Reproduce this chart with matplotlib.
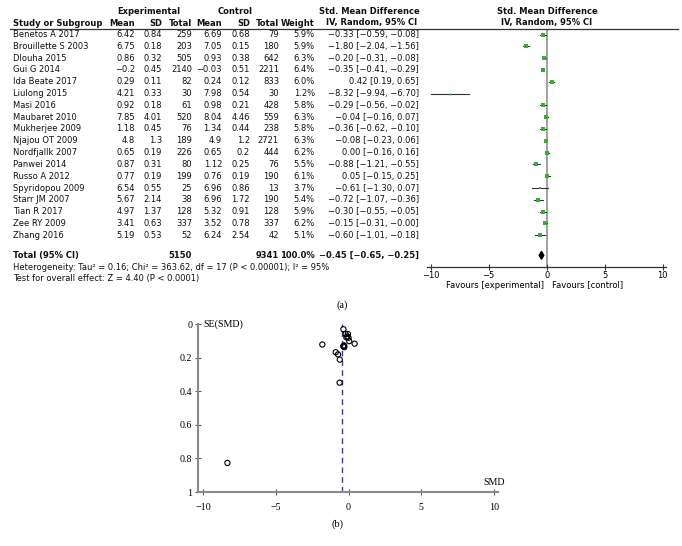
import matplotlib
matplotlib.use('Agg')
import matplotlib.pyplot as plt
import matplotlib.transforms as mtransforms
from matplotlib.lines import Line2D

studies = ['Benetos A 2017', 'Brouillette S 2003', 'Dlouha 2015', 'Gui G 2014', 'Ida Beate 2017',
           'Liulong 2015', 'Masi 2016', 'Maubaret 2010', 'Mukherjee 2009', 'Njajou OT 2009',
           'Nordfjallk 2007', 'Panwei 2014', 'Russo A 2012', 'Spyridopou 2009', 'Starr JM 2007',
           'Tian R 2017', 'Zee RY 2009', 'Zhang 2016']
exp_mean = [6.42, 6.75, 0.86, -0.2, 0.29, 4.21, 0.92, 7.85, 1.18, 4.8, 0.65, 0.87, 0.77, 6.54, 5.67, 4.97, 3.41, 5.19]
exp_sd = [0.84, 0.18, 0.32, 0.45, 0.11, 0.33, 0.18, 4.01, 0.45, 1.3, 0.19, 0.31, 0.19, 0.55, 2.14, 1.37, 0.63, 0.53]
exp_n = [259, 203, 505, 2140, 82, 30, 61, 520, 76, 189, 226, 80, 199, 25, 38, 128, 337, 52]
ctl_mean = [6.69, 7.05, 0.93, -0.03, 0.24, 7.98, 0.98, 8.04, 1.34, 4.9, 0.65, 1.12, 0.76, 6.96, 6.96, 5.32, 3.52, 6.24]
ctl_sd = [0.68, 0.15, 0.38, 0.51, 0.12, 0.54, 0.21, 4.46, 0.44, 1.2, 0.2, 0.25, 0.19, 0.86, 1.72, 0.91, 0.78, 2.54]
ctl_n = [79, 180, 642, 2211, 833, 30, 428, 559, 238, 2721, 444, 76, 190, 13, 190, 128, 337, 42]
weight = [5.9, 5.9, 6.3, 6.4, 6.0, 1.2, 5.8, 6.3, 5.8, 6.3, 6.2, 5.5, 6.1, 3.7, 5.4, 5.9, 6.2, 5.1]
smd = [-0.33, -1.80, -0.20, -0.35, 0.42, -8.32, -0.29, -0.04, -0.36, -0.08, 0.00, -0.88, 0.05, -0.61, -0.72, -0.30, -0.15, -0.60]
ci_lo = [-0.59, -2.04, -0.31, -0.41, 0.19, -9.94, -0.56, -0.16, -0.62, -0.23, -0.16, -1.21, -0.15, -1.30, -1.07, -0.55, -0.31, -1.01]
ci_hi = [-0.08, -1.56, -0.08, -0.29, 0.65, -6.70, -0.02, 0.07, -0.10, 0.06, 0.16, -0.55, 0.25, 0.07, -0.36, -0.05, -0.0, -0.18]
# standard errors for the funnel plot
se = [0.130, 0.122, 0.059, 0.031, 0.117, 0.827, 0.138, 0.059, 0.133, 0.074, 0.082, 0.168, 0.102, 0.349, 0.181, 0.128, 0.079, 0.212]

tot_exp = 5150
tot_ctl = 9341
tot_weight = 100.0
tot_smd, tot_lo, tot_hi = -0.45, -0.65, -0.25
het_text = 'Heterogeneity: Tau² = 0.16; Chi² = 363.62, df = 17 (P < 0.00001); I² = 95%'
test_text = 'Test for overall effect: Z = 4.40 (P < 0.0001)'

W, H = 682, 546
green = '#3aaa35'

plt.rcParams['font.family'] = 'DejaVu Sans'
plt.rcParams['font.size'] = 6

fig = plt.figure(figsize=(W / 100, H / 100), dpi=100)

def fx(x):
    return x / W

def fy(y):
    return 1 - y / H

def num(v):
    return str(v).replace('-', '\u2212')

def ci(e, l, h):
    return ('%.2f [%.2f, %.2f]' % (e, l, h)).replace('-', '\u2212')

# ---- forest plot ----
row0, row_h = 34.5, 11.81
total_row = 18.7
ax = fig.add_axes([fx(427.2), fy(266.5), fx(239), (266.5 - 29) / H])
ax.set_xlim(-10.3, 10.3)
ax.set_ylim((266.5 - row0) / row_h, (29 - row0) / row_h)
ax.axvline(0, color='#9a9a9a', lw=1.3, zorder=1)

for i in range(len(studies)):
    ax.plot([ci_lo[i], ci_hi[i]], [i, i], color='#333333', lw=0.8, zorder=2)
    ax.plot(smd[i], i, marker='s', ms=1.1 * weight[i] ** 0.5, color=green, mew=0, zorder=3)

ax.fill([tot_lo, tot_smd, tot_hi, tot_smd],
        [total_row, total_row - 0.33, total_row, total_row + 0.33], color='black', zorder=3)

for s in ['top', 'left', 'right']:
    ax.spines[s].set_visible(False)
ax.spines['bottom'].set_color('#333333')
ax.spines['bottom'].set_linewidth(0.9)
ax.set_yticks([])
ax.set_xticks([-10, -5, 0, 5, 10])
ax.tick_params(axis='x', direction='inout', length=5, width=0.8, color='#333333', labelsize=6, pad=1)

fav = mtransforms.blended_transform_factory(ax.transData, fig.transFigure)
ax.text(-0.25, fy(285), 'Favours [experimental]', transform=fav, ha='right', va='center', fontsize=6)
ax.text(0.45, fy(285), 'Favours [control]', transform=fav, ha='left', va='center', fontsize=6)

# ---- table ----
tr = mtransforms.blended_transform_factory(fig.transFigure, ax.transData)
cols = [135, 162, 192, 222, 250, 279, 315]

def cell(x, y, s, ha='right', bold=False):
    ax.text(fx(x), y, s, transform=tr, ha=ha, va='center', clip_on=False,
            fontweight='bold' if bold else 'normal', color='#111111')

for i in range(len(studies)):
    cell(13, i, studies[i], ha='left')
    vals = [num(exp_mean[i]), num(exp_sd[i]), num(exp_n[i]), num(ctl_mean[i]),
            num(ctl_sd[i]), num(ctl_n[i]), '%.1f%%' % weight[i]]
    for x, v in zip(cols, vals):
        cell(x, i, v)
    cell(419, i, ci(smd[i], ci_lo[i], ci_hi[i]))

cell(13, total_row, 'Total (95% CI)', ha='left', bold=True)
cell(192, total_row, str(tot_exp), bold=True)
cell(279, total_row, str(tot_ctl), bold=True)
cell(315, total_row, '%.1f%%' % tot_weight, bold=True)
cell(419, total_row, ci(tot_smd, tot_lo, tot_hi), bold=True)

hdr = dict(fontweight='bold', va='center', color='#111111')
fig.text(fx(149), fy(12), 'Experimental', ha='center', **hdr)
fig.text(fx(235), fy(12), 'Control', ha='center', **hdr)
fig.text(fx(369), fy(12), 'Std. Mean Difference', ha='center', **hdr)
fig.text(fx(547), fy(12), 'Std. Mean Difference', ha='center', **hdr)
fig.text(fx(13), fy(23), 'Study or Subgroup', ha='left', **hdr)
for x, h in zip(cols, ['Mean', 'SD', 'Total', 'Mean', 'SD', 'Total', 'Weight']):
    fig.text(fx(x), fy(23), h, ha='right', **hdr)
fig.text(fx(372), fy(23), 'IV, Random, 95% CI', ha='center', **hdr)
fig.text(fx(547), fy(23), 'IV, Random, 95% CI', ha='center', **hdr)
fig.add_artist(Line2D([fx(10), fx(678)], [fy(29), fy(29)], color='#333333', lw=0.9))

fig.text(fx(13), fy(268), het_text, ha='left', va='center', color='#111111')
fig.text(fx(13), fy(279), test_text, ha='left', va='center', color='#111111')

serif = 'Liberation Serif'
fig.text(fx(342), fy(305), '(a)', ha='center', va='center', family=serif, fontsize=7.5)
fig.text(fx(338), fy(524), '(b)', ha='center', va='center', family=serif, fontsize=7.5)

# ---- funnel plot ----
ax2 = fig.add_axes([fx(197.9), fy(492), fx(300.5), 168 / H])
ax2.set_xlim(-10.35, 10.3)
ax2.set_ylim(1, 0)
ax2.scatter(smd, se, s=14, facecolors='none', edgecolors='black', linewidths=0.8, zorder=3)
ax2.axvline(tot_smd, color='#3b3b9c', lw=1, ls=(0, (4, 3)), zorder=2)

for s in ['top', 'right']:
    ax2.spines[s].set_visible(False)
for s in ['left', 'bottom']:
    ax2.spines[s].set_color('#8a8a8a')
    ax2.spines[s].set_linewidth(1.5)
ax2.set_xticks([-10, -5, 0, 5, 10])
ax2.set_yticks([0, 0.2, 0.4, 0.6, 0.8, 1])
ax2.set_yticklabels(['0', '0.2', '0.4', '0.6', '0.8', '1'])
ax2.tick_params(axis='x', direction='inout', length=5, color='#555555', pad=5.5)
ax2.tick_params(axis='y', direction='inout', length=5, color='#555555', pad=1.5)
for lab in ax2.get_xticklabels() + ax2.get_yticklabels():
    lab.set_family(serif)
    lab.set_fontsize(7.2)
ax2.text(0.017, 1.0, 'SE(SMD)', transform=ax2.transAxes, ha='left', va='center', family=serif, fontsize=7.2)
ax2.text(1.02, 0.054, 'SMD', transform=ax2.transAxes, ha='right', va='center', family=serif, fontsize=7.2)

plt.savefig('out.png', dpi=100)
